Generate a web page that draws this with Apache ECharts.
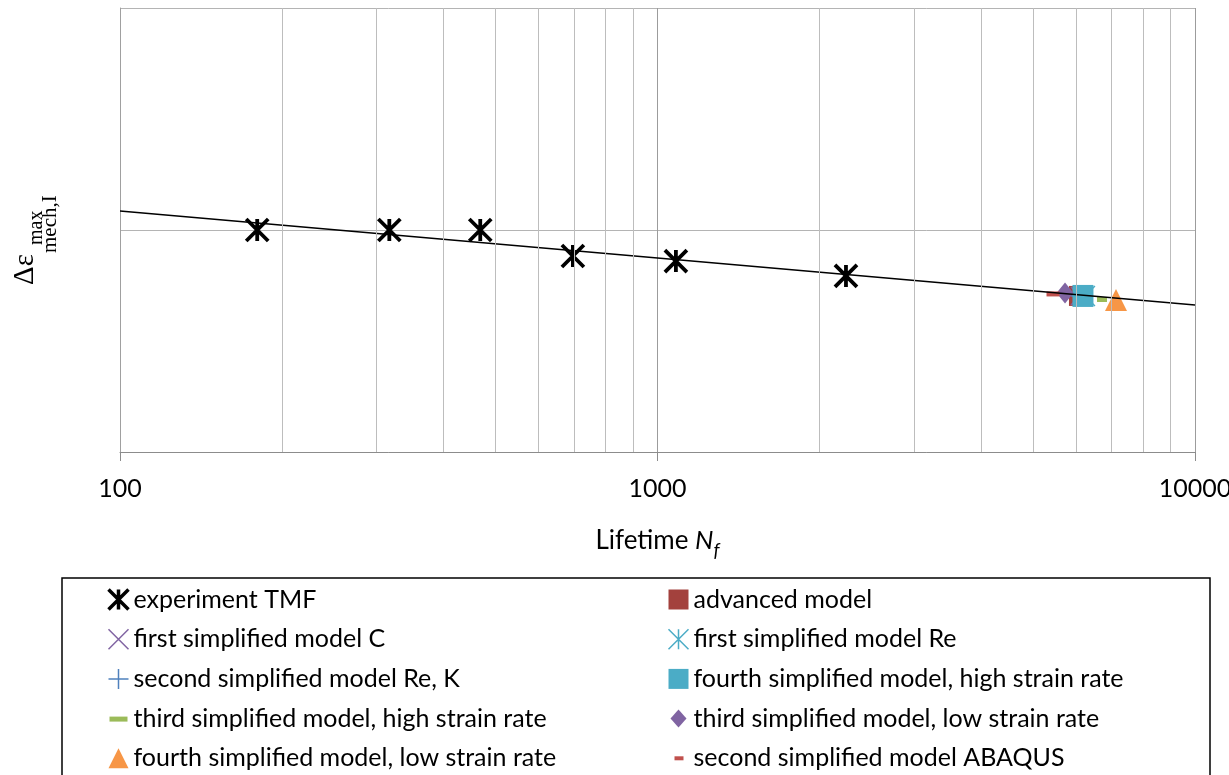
<!DOCTYPE html>
<html>
<head>
<meta charset="utf-8">
<script src="https://cdn.jsdelivr.net/npm/echarts@6/dist/echarts.min.js"></script>
<style>
  html, body { margin: 0; padding: 0; background: #ffffff; }
  #chart { width: 1229px; height: 775px; }
</style>
</head>
<body>
<div id="chart"></div>
<script>
// Experiment: TMF lifetimes and mechanical strain range
const expLife   = [180, 317, 468, 696, 1082, 2242];
const expStrain = [1.000, 1.000, 1.000, 0.883, 0.860, 0.793];

// Model predictions: [lifetime, strain range]
const advancedModel      = [6083, 0.703];
const firstSimpC         = [6109, 0.703];
const firstSimpRe        = [6241, 0.703];
const secondSimpReK      = [6109, 0.703];
const fourthSimpHigh     = [6188, 0.703];
const thirdSimpHigh      = [6714, 0.687];
const thirdSimpLow       = [5730, 0.716];
const fourthSimpLow      = [7129, 0.685];
const secondSimpAbaqus   = [5443, 0.712];

// Fitted trend line end points
const trendLife   = [100, 10000];
const trendStrain = [1.086, 0.662];

// Intermediate decade grid values
const minorGridLife = [200, 300, 400, 500, 600, 700, 800, 900,
                       2000, 3000, 4000, 5000, 6000, 7000, 8000, 9000];

const FONT = 'Lato';
const SERIF = '"Liberation Serif", "DejaVu Serif", serif';

// Marker paths
const P_ASTER = 'path://M0,0L20,20M20,0L0,20M10,0L10,20';
const P_CROSS = 'path://M0,0L20,20M20,0L0,20';
const P_PLUS  = 'path://M10,0L10,20M0,10L20,10';
const P_DASH_GREEN = 'path://M0,0L0,0M20,20L20,20M1,8L19,8L19,13L1,13Z';
const P_DASH_RED   = 'path://M0,0L0,0M20,20L20,20M6,8L15,8L15,12L6,12Z';
const P_DIAMOND    = 'path://M0,0L0,0M20,20L20,20M10,1L18,10L10,19L2,10Z';

const C = {
  black: '#000000',
  darkRed: '#a3413d',
  purple: '#8064a2',
  cyan: '#4bacc6',
  blue: '#4f81bd',
  green: '#9bbb59',
  orange: '#f79646',
  red: '#c0504d'
};

function pt(p) { return [p]; }

const chart = echarts.init(document.getElementById('chart'), null, { renderer: 'canvas' });

const scatter = (name, data, symbol, size, style) => ({
  name, type: 'scatter', data, symbol, symbolSize: size,
  itemStyle: Object.assign({ opacity: 1 }, style),
  z: 3, silent: true, animation: false
});

const legendText = { fontSize: 25, fontFamily: FONT, color: '#000', lineHeight: 24 };

const option = {
  backgroundColor: '#ffffff',
  animation: false,
  grid: { left: 120, right: 34, top: 8, bottom: 323, containLabel: false, outerBoundsMode: 'none' },
  xAxis: {
    type: 'log', logBase: 10, min: 100, max: 10000,
    axisLine: { show: true, lineStyle: { color: '#8c8c8c', width: 1 } },
    axisTick: { show: true, length: 9, lineStyle: { color: '#8c8c8c' } },
    axisLabel: {
      formatter: v => String(Math.round(v)),
      fontSize: 25, color: '#000', margin: 24, fontFamily: FONT
    },
    splitLine: { show: true, lineStyle: { color: '#9c9c9c', width: 1 } },
    name: '{n|Lifetime }{i|N}{s|f}',
    nameLocation: 'middle',
    nameGap: 76,
    nameTextStyle: {
      rich: {
        n: { fontSize: 26, fontFamily: FONT, color: '#000', verticalAlign: 'bottom', padding: [0, 0, 6, 0] },
        i: { fontSize: 26, fontFamily: FONT, fontStyle: 'italic', color: '#000', verticalAlign: 'bottom', padding: [0, 0, 6, 0] },
        s: { fontSize: 19, fontFamily: FONT, fontStyle: 'italic', color: '#000', verticalAlign: 'bottom' }
      }
    }
  },
  yAxis: {
    type: 'value', min: 0, max: 2, interval: 1,
    axisLine: { show: true, lineStyle: { color: '#a0a0a0' } },
    axisTick: { show: false },
    axisLabel: { show: false },
    splitLine: { show: true, lineStyle: { color: '#b4b4b4', width: 1 } }
  },
  legend: [
    {
      left: 106, top: 587, orient: 'vertical', padding: 0,
      itemWidth: 20, itemHeight: 20, itemGap: 14.7,
      selectedMode: false,
      textStyle: legendText,
      data: [
        { name: 'experiment TMF', icon: P_ASTER, itemStyle: { color: 'none', borderColor: C.black, borderWidth: 3.5, opacity: 1 } },
        { name: 'first simplified model C', icon: P_CROSS, itemStyle: { color: 'none', borderColor: C.purple, borderWidth: 1.5, opacity: 1 } },
        { name: 'second simplified model Re, K', icon: P_PLUS, itemStyle: { color: 'none', borderColor: C.blue, borderWidth: 1.5, opacity: 1 } },
        { name: 'third simplified model, high strain rate', icon: P_DASH_GREEN, itemStyle: { color: C.green, borderWidth: 0, opacity: 1 } },
        { name: 'fourth simplified model, low strain rate', icon: 'triangle', itemStyle: { color: C.orange, borderWidth: 0, opacity: 1 } }
      ]
    },
    {
      left: 666, top: 587, orient: 'vertical', padding: 0,
      itemWidth: 20, itemHeight: 20, itemGap: 14.7,
      selectedMode: false,
      textStyle: legendText,
      data: [
        { name: 'advanced model', icon: 'rect', itemStyle: { color: C.darkRed, borderWidth: 0, opacity: 1 } },
        { name: 'first simplified model Re', icon: P_ASTER, itemStyle: { color: 'none', borderColor: C.cyan, borderWidth: 1.5, opacity: 1 } },
        { name: 'fourth simplified model, high strain rate', icon: 'rect', itemStyle: { color: C.cyan, borderWidth: 0, opacity: 1 } },
        { name: 'third simplified model, low strain rate', icon: P_DIAMOND, itemStyle: { color: C.purple, borderWidth: 0, opacity: 1 } },
        { name: 'second simplified model ABAQUS', icon: P_DASH_RED, itemStyle: { color: C.red, borderWidth: 0, opacity: 1 } }
      ]
    }
  ],
  graphic: [
    {
      type: 'rect', silent: true, z: 0,
      shape: { x: 62, y: 578, width: 1148, height: 220 },
      style: { fill: 'none', stroke: '#000', lineWidth: 1.5 }
    },
    {
      // rotated axis title: Δε with superscript "max" and subscript "mech,I"
      type: 'group', x: 47, y: 285, rotation: Math.PI / 2, silent: true,
      children: [
        { type: 'text', x: 0, y: -22, style: { text: 'Δε', font: '29px ' + SERIF, fill: '#000', verticalAlign: 'middle', align: 'left' } },
        { type: 'text', x: 40, y: -10, style: { text: 'max', font: '20px ' + SERIF, fill: '#000', verticalAlign: 'middle', align: 'left' } },
        { type: 'text', x: 32, y: 3, style: { text: 'mech,I', font: '21px ' + SERIF, fill: '#000', verticalAlign: 'middle', align: 'left' } }
      ]
    }
  ],
  series: [
    {
      name: 'grid', type: 'line', data: [], z: 1, silent: true,
      markLine: {
        silent: true, symbol: 'none', animation: false,
        label: { show: false },
        lineStyle: { color: '#bdbdbd', width: 1, type: 'solid' },
        data: minorGridLife.map(v => ({ xAxis: v }))
      }
    },
    scatter('experiment TMF', expLife.map((x, i) => [x, expStrain[i]]), P_ASTER, 22,
            { color: 'none', borderColor: C.black, borderWidth: 3.8 }),
    scatter('advanced model', pt(advancedModel), 'rect', 20, { color: C.darkRed }),
    scatter('first simplified model C', pt(firstSimpC), P_CROSS, 18,
            { color: 'none', borderColor: C.purple, borderWidth: 1.5 }),
    scatter('first simplified model Re', pt(firstSimpRe), P_ASTER, 20,
            { color: 'none', borderColor: C.cyan, borderWidth: 1.5 }),
    scatter('second simplified model Re, K', pt(secondSimpReK), P_PLUS, 18,
            { color: 'none', borderColor: C.blue, borderWidth: 1.5 }),
    scatter('fourth simplified model, high strain rate', pt(fourthSimpHigh), 'rect', [21, 22], { color: C.cyan }),
    scatter('third simplified model, high strain rate', pt(thirdSimpHigh), 'rect', [10, 5], { color: C.green }),
    scatter('third simplified model, low strain rate', pt(thirdSimpLow), 'diamond', [17, 21], { color: C.purple }),
    scatter('fourth simplified model, low strain rate', pt(fourthSimpLow), 'triangle', 22, { color: C.orange }),
    scatter('second simplified model ABAQUS', pt(secondSimpAbaqus), 'rect', [13, 5], { color: C.red }),
    {
      name: 'trend', type: 'line', z: 4, silent: true,
      data: trendLife.map((x, i) => [x, trendStrain[i]]),
      symbol: 'none',
      lineStyle: { color: '#000', width: 1.5 }
    }
  ]
};

chart.setOption(option);
</script>
</body>
</html>
